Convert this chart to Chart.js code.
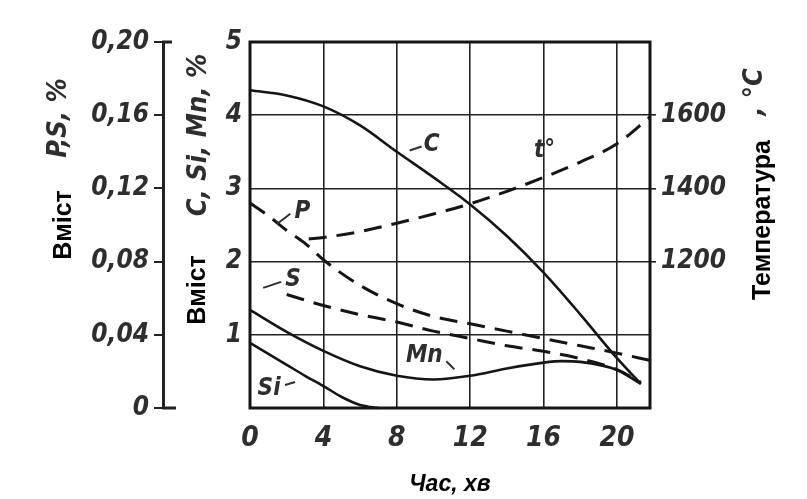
<!DOCTYPE html>
<html>
<head>
<meta charset="utf-8">
<script src="https://cdn.jsdelivr.net/npm/chart.js@4.4.1/dist/chart.umd.min.js"></script>
<style>
  html, body { margin: 0; padding: 0; background: #fff; }
  #wrap { width: 807px; height: 499px; }
</style>
</head>
<body>
<div id="wrap"><canvas id="chart" width="807" height="499"></canvas></div>
<script>
// time, min
const xTicks = [0, 4, 8, 12, 16, 20];
const tempTicks = [1200, 1400, 1600];

// C, Si, Mn, % (inner left axis)
const cTime = [0, 2, 4, 6, 8, 10, 12, 14, 16, 18, 20, 21.3];
const cValues = [4.34, 4.27, 4.12, 3.86, 3.5, 3.15, 2.78, 2.35, 1.85, 1.28, 0.68, 0.33];
const siTime = [0, 1, 2, 3, 4, 5, 6, 7];
const siValues = [0.89, 0.74, 0.59, 0.44, 0.3, 0.15, 0.04, 0];
const mnTime = [0, 2, 4, 6, 8, 10, 12, 14, 16, 17, 18, 20, 21.3];
const mnValues = [1.34, 1.04, 0.78, 0.57, 0.44, 0.39, 0.44, 0.54, 0.62, 0.64, 0.63, 0.52, 0.33];

// P, S, % (outer left axis)
const pTime = [0, 1, 2, 3, 4, 6, 8, 10, 12, 14, 16, 18, 20, 21.8];
const pValues = [0.112, 0.105, 0.097, 0.09, 0.081, 0.067, 0.057, 0.05, 0.046, 0.042, 0.038, 0.034, 0.03, 0.026];
const sTime = [2, 4, 6, 8, 10, 12, 14, 16, 18, 20, 21.3];
const sValues = [0.062, 0.056, 0.051, 0.047, 0.042, 0.038, 0.034, 0.031, 0.027, 0.021, 0.014];

// temperature, °C (right axis)
const tTime = [3.2, 4, 6, 8, 10, 12, 14, 16, 18, 20, 21.8];
const tValues = [1262, 1266, 1282, 1305, 1330, 1358, 1392, 1430, 1472, 1522, 1595];

// curve names, placed in time / C-axis units
const curveLabels = [
    { text: 'C', x: 9.9, y: 3.6, lead: [-22, 6, -10, 2] },
    { text: 't°', x: 16.05, y: 3.52, lead: null },
    { text: 'P', x: 2.85, y: 2.68, lead: [-25, 12, -12, 2] },
    { text: 'S', x: 2.35, y: 1.75, lead: [-30, 8, -12, 2] },
    { text: 'Mn', x: 9.5, y: 0.72, lead: [22, 6, 30, 14] },
    { text: 'Si', x: 1.04, y: 0.26, lead: [16, -4, 26, -7] }
];

const toPoints = (xs, ys) => xs.map((x, i) => ({ x: x, y: ys[i] }));

const scanFont = { family: '"DejaVu Sans Condensed", "DejaVu Sans", sans-serif', style: 'italic', weight: 'bold', size: 26 };
const ink = '#151515';
const scanInk = '#2e2e2e';

function line(label, points, axis, dashed) {
    return {
        label: label,
        data: points,
        yAxisID: axis,
        borderColor: ink,
        borderWidth: dashed ? 3 : 2.6,
        borderDash: dashed ? [18, 10] : [],
        pointRadius: 0,
        fill: false,
        cubicInterpolationMode: 'monotone',
        clip: false
    };
}

const overlay = {
    id: 'overlay',
    afterDraw(chart) {
        const { ctx, chartArea: a } = chart;
        const xs = chart.scales.x;
        const yc = chart.scales.yC;
        const yps = chart.scales.yPS;
        ctx.save();

        // thick frame round the plot
        ctx.strokeStyle = ink;
        ctx.lineWidth = 3;
        ctx.strokeRect(a.left, a.top, a.right - a.left, a.bottom - a.top);

        // end serifs of the P,S axis
        ctx.strokeStyle = '#222';
        ctx.lineWidth = 3;
        ctx.beginPath();
        ctx.moveTo(yps.right - 1, yps.getPixelForValue(0.2));
        ctx.lineTo(yps.right + 9, yps.getPixelForValue(0.2));
        ctx.moveTo(yps.right - 1, yps.getPixelForValue(0));
        ctx.lineTo(yps.right + 13, yps.getPixelForValue(0));
        ctx.stroke();

        // vertical axis titles
        function vText(text, x, y, font, color) {
            ctx.save();
            ctx.translate(x, y);
            ctx.rotate(-Math.PI / 2);
            ctx.font = font;
            ctx.fillStyle = color;
            ctx.textAlign = 'center';
            ctx.textBaseline = 'middle';
            ctx.fillText(text, 0, 0);
            ctx.restore();
        }
        const modern = 'bold 25px "Liberation Sans", Arial, sans-serif';
        const scan = 'italic bold 27px "DejaVu Sans Condensed", "DejaVu Sans", sans-serif';
        vText('Вміст', 64, 225, modern, '#000');
        vText('P,S, %', 59, 118, scan, scanInk);
        vText('Вміст', 198, 290, modern, '#000');
        vText('C, Si, Mn, %', 199, 135, scan, scanInk);
        vText('Температура', 763, 220, modern, '#000');
        vText(', °C', 755, 92, scan, scanInk);

        // curve names
        ctx.font = 'italic bold 24px "DejaVu Sans Condensed", "DejaVu Sans", sans-serif';
        ctx.fillStyle = scanInk;
        ctx.strokeStyle = scanInk;
        ctx.lineWidth = 2;
        ctx.textAlign = 'center';
        ctx.textBaseline = 'middle';
        curveLabels.forEach((l) => {
            const px = xs.getPixelForValue(l.x);
            const py = yc.getPixelForValue(l.y);
            ctx.fillText(l.text, px, py);
            if (l.lead) {
                ctx.beginPath();
                ctx.moveTo(px + l.lead[0], py + l.lead[1]);
                ctx.lineTo(px + l.lead[2], py + l.lead[3]);
                ctx.stroke();
            }
        });
        ctx.restore();
    }
};

new Chart(document.getElementById('chart'), {
    type: 'line',
    data: {
        datasets: [
            line('C', toPoints(cTime, cValues), 'yC', false),
            line('Si', toPoints(siTime, siValues), 'yC', false),
            line('Mn', toPoints(mnTime, mnValues), 'yC', false),
            line('P', toPoints(pTime, pValues), 'yPS', true),
            line('S', toPoints(sTime, sValues), 'yPS', true),
            line('t°', toPoints(tTime, tValues), 'yT', true)
        ]
    },
    options: {
        responsive: false,
        animation: false,
        layout: { padding: { top: 42, left: 0, right: 0, bottom: 0 } },
        plugins: {
            legend: { display: false },
            tooltip: { enabled: false }
        },
        scales: {
            x: {
                type: 'linear',
                min: 0,
                max: 21.8,
                afterFit(s) { s.height = 91; },
                afterBuildTicks(s) { s.ticks = xTicks.map((v) => ({ value: v })); },
                ticks: { color: scanInk, font: { ...scanFont, size: 28 }, padding: 14, callback: (v) => String(v) },
                grid: { color: '#222', lineWidth: 1.6, drawTicks: false },
                border: { display: false },
                title: {
                    display: true,
                    text: 'Час, хв',
                    color: '#000',
                    font: { family: '"Liberation Sans", Arial, sans-serif', style: 'italic', weight: 'bold', size: 23 },
                    padding: { top: 0, bottom: 1 }
                }
            },
            yC: {
                type: 'linear',
                position: 'left',
                weight: 0,
                min: 0,
                max: 5,
                afterFit(s) { s.width = 87; },
                ticks: {
                    stepSize: 1,
                    color: scanInk,
                    font: scanFont,
                    padding: 8,
                    callback: (v) => (v === 0 ? '' : String(v))
                },
                grid: { color: '#222', lineWidth: 1.6, drawTicks: false },
                border: { display: false }
            },
            yPS: {
                type: 'linear',
                position: 'left',
                weight: 2,
                min: 0,
                max: 0.2,
                afterFit(s) { s.width = 163; },
                ticks: {
                    stepSize: 0.04,
                    color: scanInk,
                    font: scanFont,
                    padding: 5,
                    callback: (v) => (v === 0 ? '0' : v.toFixed(2).replace('.', ','))
                },
                grid: { drawOnChartArea: false, color: '#222', lineWidth: 2, tickLength: 9 },
                border: { display: true, color: '#222', width: 3 }
            },
            yT: {
                type: 'linear',
                position: 'right',
                min: 800,
                max: 1800,
                afterFit(s) { s.width = 157; },
                afterBuildTicks(s) { s.ticks = tempTicks.map((v) => ({ value: v })); },
                ticks: { color: scanInk, font: scanFont, padding: 5, callback: (v) => String(v) },
                grid: { drawOnChartArea: false, color: '#222', lineWidth: 1.6, tickLength: 6 },
                border: { display: false }
            }
        }
    },
    plugins: [overlay]
});
</script>
</body>
</html>
